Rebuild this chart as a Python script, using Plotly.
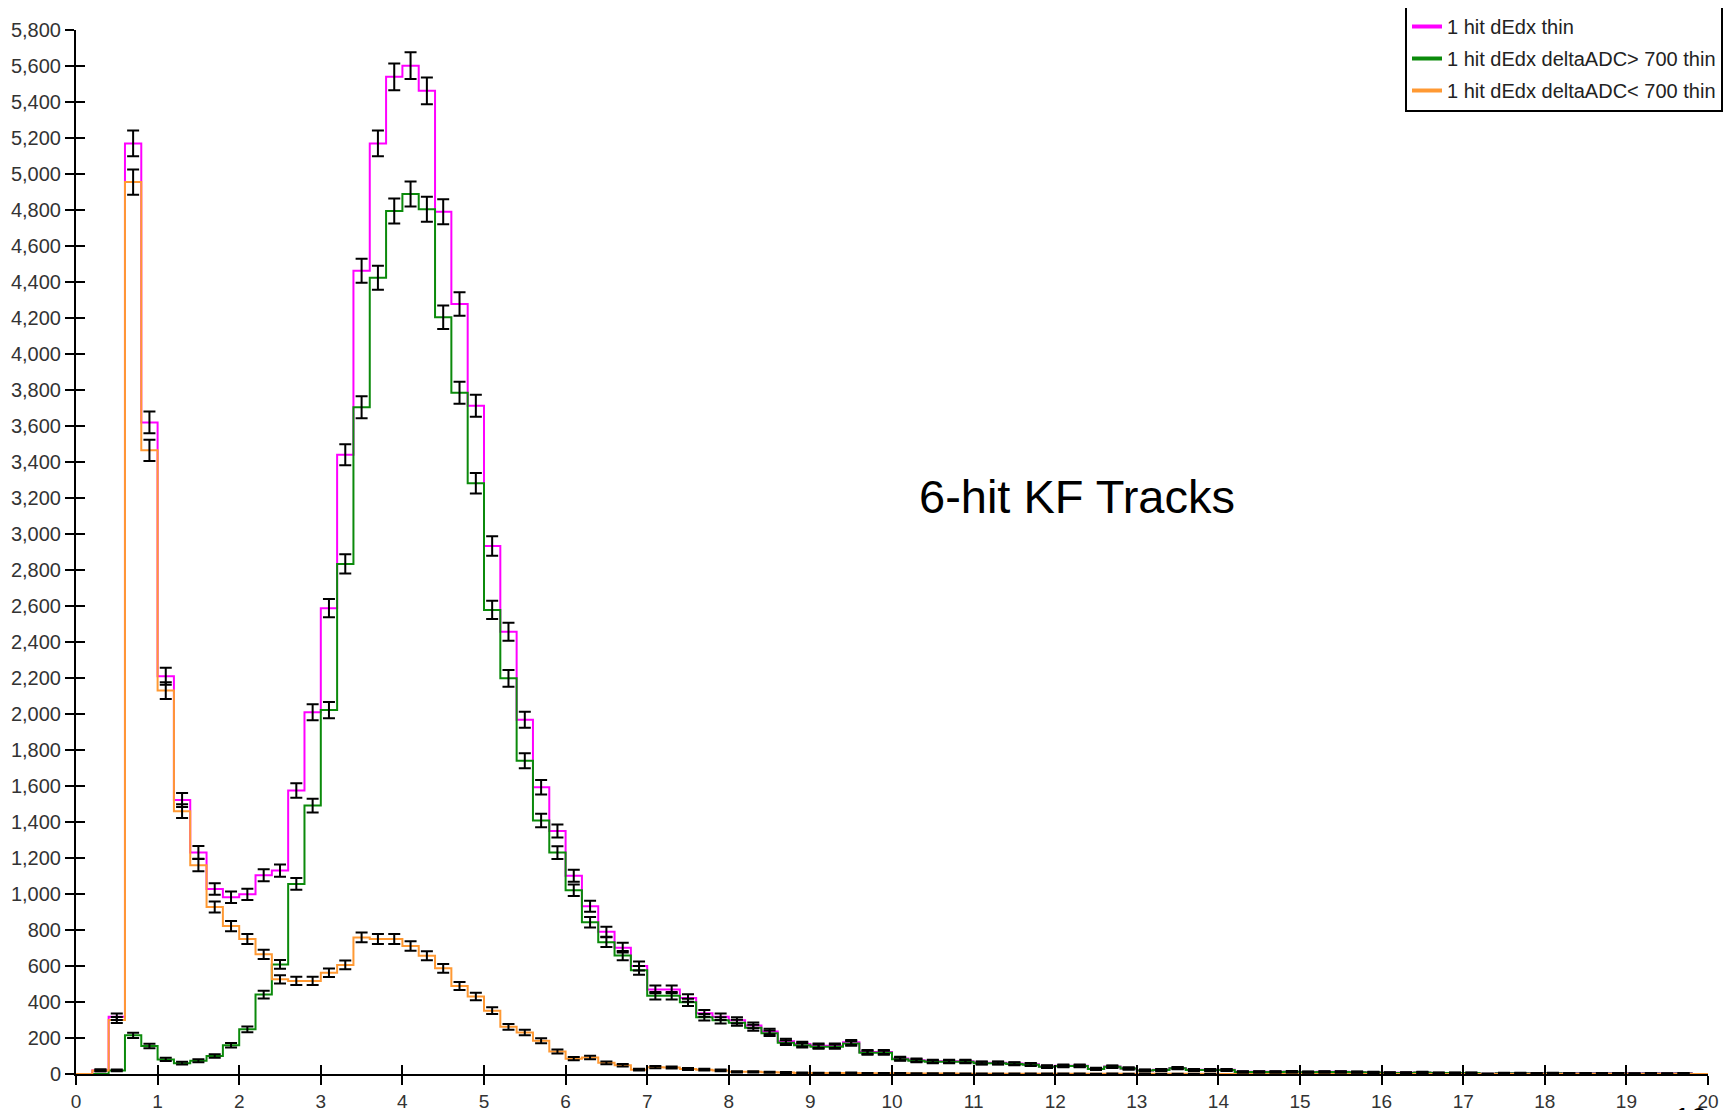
import numpy as np
import plotly.graph_objects as go

# ---- data (bin width 0.2, 0..20) ----
bin_width = 0.2
x_min, x_max = 0.0, 20.0

total_thin = [
    0, 20, 318, 5170, 3620, 2210, 1522, 1231, 1028, 982,
    998, 1104, 1130, 1575, 2010, 2588, 3440, 4463, 5170, 5540,
    5602, 5462, 4790, 4278, 3713, 2933, 2457, 1968, 1593, 1350,
    1101, 932, 790, 702, 600, 470, 470, 422, 337, 318,
    298, 270, 236, 182, 166, 157, 157, 176, 122, 122,
    86, 77, 71, 71, 71, 62, 62, 58, 54, 42,
    46, 46, 29, 41, 31, 20, 23, 33, 23, 23,
    23, 12, 12, 12, 13, 11, 12, 12, 11, 9,
    7, 7, 9, 6, 6, 6, 1, 5, 5, 4,
    5, 4, 4, 4, 4, 3, 4, 3, 4, 0,
]
high_adc = [
    0, 0, 20, 215, 155, 81, 60, 74, 100, 160,
    248, 441, 609, 1056, 1491, 2022, 2834, 3704, 4424, 4794,
    4889, 4804, 4204, 3785, 3282, 2578, 2198, 1740, 1408, 1230,
    1021, 843, 732, 658, 576, 435, 435, 398, 315, 298,
    285, 257, 226, 174, 160, 152, 152, 170, 118, 118,
    82, 74, 68, 68, 68, 60, 60, 56, 52, 40,
    44, 44, 28, 40, 30, 19, 22, 32, 22, 22,
    22, 11, 11, 11, 12, 10, 11, 11, 10, 8,
    6, 6, 8, 5, 5, 5, 1, 4, 4, 3,
    4, 3, 3, 3, 3, 2, 3, 2, 3, 0,
]
low_adc = [
    0, 20, 300, 4955, 3465, 2130, 1460, 1160, 928, 822,
    750, 665, 526, 517, 517, 563, 606, 759, 750, 750,
    711, 657, 587, 489, 430, 352, 262, 230, 185, 125,
    85, 92, 62, 48, 24, 38, 36, 28, 24, 20,
    12, 12, 10, 8, 6, 5, 5, 6, 4, 4,
    4, 3, 3, 3, 2, 2, 2, 2, 2, 2,
    2, 2, 1, 2, 1, 1, 1, 1, 1, 1,
    0, 0, 0, 0, 0, 0, 0, 0, 0, 0,
    0, 0, 0, 0, 0, 0, 0, 0, 0, 0,
    0, 0, 0, 0, 0, 0, 0, 0, 0, 0,
]

series_names = [
    "1 hit dEdx thin",
    "1 hit dEdx deltaADC> 700 thin",
    "1 hit dEdx deltaADC< 700 thin",
]
series_colors = ["#ff00ff", "#0b8a0b", "#ff9933"]

x_ticks = list(range(0, 21))
y_ticks = list(range(0, 5801, 200))

# ---- figure ----
n_bins = len(total_thin)
edges = x_min + bin_width * np.arange(n_bins + 1)
centers = edges[:-1] + bin_width / 2

fig = go.Figure()

all_series = [total_thin, high_adc, low_adc]
for vals, name, col in zip(all_series, series_names, series_colors):
    v = np.asarray(vals, dtype=float)
    fig.add_trace(go.Scatter(
        x=edges, y=np.append(v, v[-1]),
        mode="lines", line=dict(color=col, width=2, shape="hv"),
        name=name, showlegend=False, hoverinfo="skip",
    ))

for vals, name in zip(all_series, series_names):
    v = np.asarray(vals, dtype=float)
    mask = v > 0
    fig.add_trace(go.Scatter(
        x=centers[mask], y=v[mask], mode="markers",
        marker=dict(size=1, color="black", opacity=0),
        error_y=dict(type="data", array=np.sqrt(v[mask]), color="black",
                     thickness=2, width=6, visible=True),
        showlegend=False, hoverinfo="skip",
    ))

# legend-only entries with thicker sample lines
for i, (name, col) in enumerate(zip(series_names, series_colors)):
    fig.add_trace(go.Scatter(
        x=[None], y=[None], mode="lines", line=dict(color=col, width=4),
        name=name, legendgroup=f"g{i}", showlegend=True, hoverinfo="skip",
    ))

font_fam = "Liberation Sans, Arial, sans-serif"
W, H = 1735, 1110
off = 8  # page body margin
ml, mt = 76 - off, 30 - off
mr = W - (1708 - off)
mb = H - (1074 - off)
pw, ph = W - ml - mr, H - mt - mb

fig.update_layout(
    width=W, height=H,
    margin=dict(l=ml, r=mr, t=mt, b=mb, pad=0, autoexpand=False),
    plot_bgcolor="white", paper_bgcolor="white",
    font=dict(family=font_fam, color="#333333", size=20),
    xaxis=dict(range=[x_min, x_max], tickvals=x_ticks, ticktext=[str(t) for t in x_ticks],
               showgrid=False, zeroline=False, showline=True, linecolor="black", linewidth=2,
               ticks="outside", ticklen=9, tickwidth=2, tickcolor="black",
               tickfont=dict(size=19, color="#333333")),
    yaxis=dict(range=[0, 5800], tickvals=y_ticks, ticktext=[f"{t:,}" for t in y_ticks],
               showgrid=False, zeroline=False, showline=True, linecolor="black", linewidth=2,
               ticks="outside", ticklen=9, tickwidth=2, tickcolor="black",
               tickfont=dict(size=20, color="#333333")),
    xaxis2=dict(range=[x_min, x_max], tickvals=x_ticks, overlaying="x", anchor="y", side="bottom",
                showticklabels=False, showgrid=False, zeroline=False, showline=False,
                ticks="inside", ticklen=9, tickwidth=2, tickcolor="black"),
    yaxis2=dict(range=[0, 5800], tickvals=y_ticks, overlaying="y", anchor="x", side="left",
                showticklabels=False, showgrid=False, zeroline=False, showline=False,
                ticks="inside", ticklen=9, tickwidth=2, tickcolor="black"),
    legend=dict(xref="paper", yref="paper", x=(1723 - off - ml) / pw,
                y=1 + (mt - (5 - off)) / ph,
                xanchor="right", yanchor="top", bgcolor="white",
                bordercolor="black", borderwidth=2,
                font=dict(family=font_fam, size=20, color="#222222"),
                tracegroupgap=3, itemwidth=30),
    showlegend=True,
)

# dummy trace so that the overlay axes render
fig.add_trace(go.Scatter(x=[x_min], y=[0], xaxis="x2", yaxis="y2", mode="markers",
                         marker=dict(size=1, opacity=0), showlegend=False, hoverinfo="skip"))

fig.add_annotation(text="6-hit KF Tracks", xref="paper", yref="paper",
                   x=(1077 - off - ml) / pw, y=(1074 - 496) / ph,
                   showarrow=False, font=dict(family=font_fam, size=47, color="black"),
                   xanchor="center", yanchor="middle")
fig.add_annotation(text="10", xref="paper", yref="paper",
                   x=(1690 - off - ml) / pw, y=(1074 - 1099) / ph,
                   showarrow=False, font=dict(family=font_fam, size=30, color="black"),
                   xanchor="center", yanchor="top")

fig.write_html("out.html")
